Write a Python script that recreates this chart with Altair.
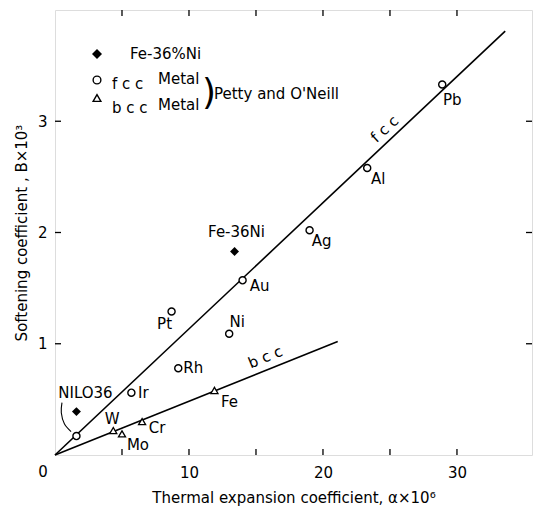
import altair as alt
import pandas as pd

# ---- data ----
fcc_names = ["NILO36", "Ir", "Rh", "Pt", "Ni", "Au", "Ag", "Al", "Pb"]
fcc_x = [1.6, 5.7, 9.2, 8.7, 13.0, 14.0, 19.0, 23.3, 28.9]
fcc_y = [0.17, 0.56, 0.78, 1.29, 1.09, 1.57, 2.02, 2.58, 3.33]

bcc_names = ["W", "Mo", "Cr", "Fe"]
bcc_x = [4.35, 5.0, 6.5, 11.9]
bcc_y = [0.22, 0.19, 0.30, 0.58]

alloy_names = ["Fe-36Ni", "NILO36"]
alloy_x = [13.4, 1.6]
alloy_y = [1.83, 0.39]

fcc_line_x = [0, 33.6]
fcc_line_y = [0, 3.81]
bcc_line_x = [0, 21.1]
bcc_line_y = [0, 1.02]

x_labels = [10, 20, 30]
x_ticks = [5, 10, 15, 20, 25, 30]
y_labels = [1, 2, 3]

# label offsets (pixels) for the point labels
fcc_dx = [9, 12, 15, -7, 8, 17, 12, 11, 10]
fcc_dy = [-43, 0, 0, 13, -12, 6, 11, 11, 15]
bcc_dx = [-1, 16, 15, 15]
bcc_dy = [-12, 11, 6, 12]
alloy_dx = [2]
alloy_dy = [-19]

# NILO36 leader curve
lead_x = [0.52, 0.47, 0.70, 1.20]
lead_y = [0.47, 0.38, 0.28, 0.21]

W, H = 477, 445
XMAX, YMAX = 35.6, 4.0
FONT = "DejaVu Sans"

xs = alt.Scale(domain=[0, XMAX], nice=False)
ys = alt.Scale(domain=[0, YMAX], nice=False)

fcc = pd.DataFrame({"name": fcc_names, "x": fcc_x, "y": fcc_y, "dx": fcc_dx, "dy": fcc_dy})
bcc = pd.DataFrame({"name": bcc_names, "x": bcc_x, "y": bcc_y, "dx": bcc_dx, "dy": bcc_dy})
alloy = pd.DataFrame({"name": alloy_names, "x": alloy_x, "y": alloy_y})
labels = pd.concat([
    fcc,
    bcc,
    pd.DataFrame({"name": alloy_names[:1], "x": alloy_x[:1], "y": alloy_y[:1],
                  "dx": alloy_dx, "dy": alloy_dy}),
]).reset_index(drop=True)

lines = pd.DataFrame({
    "x": fcc_line_x + bcc_line_x,
    "y": fcc_line_y + bcc_line_y,
    "s": ["fcc"] * 2 + ["bcc"] * 2,
})

base_x = alt.X("x:Q", scale=xs,
               axis=alt.Axis(values=x_labels, ticks=False, domain=False, grid=False,
                             labelPadding=10, labelFontSize=15, labelFont=FONT, format="d",
                             title="Thermal expansion coefficient, \u03b1\u00d710\u2076",
                             titleFontSize=15, titleFont=FONT, titleFontWeight="normal",
                             titlePadding=10))
base_y = alt.Y("y:Q", scale=ys,
               axis=alt.Axis(values=y_labels, ticks=False, domain=False, grid=False,
                             labelPadding=8, labelFontSize=15, labelFont=FONT, format="d",
                             title="Softening coefficient , B\u00d710\u00b3",
                             titleFontSize=15, titleFont=FONT, titleFontWeight="normal",
                             titlePadding=8))

line_layer = alt.Chart(lines).mark_line(color="black", strokeWidth=1.6).encode(
    x=base_x, y=base_y, detail="s:N")

lead_layer = alt.Chart(pd.DataFrame({"x": lead_x, "y": lead_y, "o": range(len(lead_x))})).mark_line(
    color="black", strokeWidth=1.1, interpolate="cardinal").encode(
    x=alt.X("x:Q", scale=xs), y=alt.Y("y:Q", scale=ys), order="o:Q")

fcc_layer = alt.Chart(fcc).mark_point(shape="circle", filled=True, fill="white", stroke="black",
                                      strokeWidth=1.4, size=50, opacity=1).encode(
    x=alt.X("x:Q", scale=xs), y=alt.Y("y:Q", scale=ys))

bcc_layer = alt.Chart(bcc).mark_point(shape="triangle-up", filled=True, fill="white", stroke="black",
                                      strokeWidth=1.3, size=50, opacity=1).encode(
    x=alt.X("x:Q", scale=xs), y=alt.Y("y:Q", scale=ys))

alloy_layer = alt.Chart(alloy).mark_point(shape="diamond", filled=True, color="black",
                                          size=80, opacity=1).encode(
    x=alt.X("x:Q", scale=xs), y=alt.Y("y:Q", scale=ys))

label_layers = []
for i in range(len(labels)):
    row = labels.iloc[[i]]
    label_layers.append(
        alt.Chart(row).mark_text(font=FONT, fontSize=15, align="center", baseline="middle",
                                 color="black", dx=int(row["dx"].iloc[0]),
                                 dy=int(row["dy"].iloc[0])).encode(
            x=alt.X("x:Q", scale=xs), y=alt.Y("y:Q", scale=ys), text="name:N"))

# line labels
line_lab = pd.DataFrame({"x": [24.6, 15.7], "y": [2.93, 0.88], "t": ["f c c", "b c c"]})
fcc_lab = alt.Chart(line_lab.iloc[:1]).mark_text(font=FONT, fontSize=15, angle=317,
                                                 color="black").encode(
    x=alt.X("x:Q", scale=xs), y=alt.Y("y:Q", scale=ys), text="t:N")
bcc_lab = alt.Chart(line_lab.iloc[1:]).mark_text(font=FONT, fontSize=15, angle=338,
                                                 color="black").encode(
    x=alt.X("x:Q", scale=xs), y=alt.Y("y:Q", scale=ys), text="t:N")

# inward ticks
one = pd.DataFrame({"v": x_ticks})
yt = pd.DataFrame({"v": y_labels})
tick_b = alt.Chart(one).mark_rule(color="black", strokeWidth=1.3).encode(
    x=alt.X("v:Q", scale=xs), y=alt.value(H), y2=alt.value(H - 6))
tick_t = alt.Chart(one).mark_rule(color="black", strokeWidth=1.3).encode(
    x=alt.X("v:Q", scale=xs), y=alt.value(0), y2=alt.value(6))
tick_l = alt.Chart(yt).mark_rule(color="black", strokeWidth=1.3).encode(
    y=alt.Y("v:Q", scale=ys), x=alt.value(0), x2=alt.value(6))
tick_r = alt.Chart(yt).mark_rule(color="black", strokeWidth=1.3).encode(
    y=alt.Y("v:Q", scale=ys), x=alt.value(W), x2=alt.value(W - 6))

# legend (pixel placement within plot area)
dummy = pd.DataFrame({"a": [0]})


def lg_point(shape, filled, px, py, size):
    if filled:
        m = alt.Chart(dummy).mark_point(shape=shape, filled=True, color="black", size=size, opacity=1)
    else:
        m = alt.Chart(dummy).mark_point(shape=shape, filled=True, fill="white", stroke="black",
                                        strokeWidth=1.4, size=size, opacity=1)
    return m.encode(x=alt.value(px), y=alt.value(py))


def lg_text(t, px, py, size=15, align="left"):
    return alt.Chart(dummy).mark_text(text=t, font=FONT, fontSize=size, align=align,
                                      baseline="middle", color="black").encode(
        x=alt.value(px), y=alt.value(py))


legend = [
    lg_point("diamond", True, 42, 44, 100),
    lg_point("circle", False, 42, 70, 60),
    lg_point("triangle-up", False, 42, 88, 60),
    lg_text("Fe-36%Ni", 75, 44),
    lg_text("f c c", 57, 74),
    lg_text("Metal", 103, 69),
    lg_text("b c c", 57, 98),
    lg_text("Metal", 103, 95),
    lg_text(")", 154, 83, size=36, align="center"),
    lg_text("Petty and O'Neill", 159, 84),
    lg_text("0", -12, H + 17, align="center"),
]

chart = alt.layer(
    line_layer, lead_layer, tick_b, tick_t, tick_l, tick_r,
    fcc_layer, bcc_layer, alloy_layer, *label_layers, fcc_lab, bcc_lab, *legend
).properties(
    width=W, height=H,
    padding={"left": 55, "top": 10, "right": 1, "bottom": 61},
    autosize=alt.AutoSizeParams(type="none"),
).configure_view(stroke="black", strokeWidth=1.5).configure(background="white")

chart.save("out.html", embed_options={"renderer": "svg", "actions": False})
